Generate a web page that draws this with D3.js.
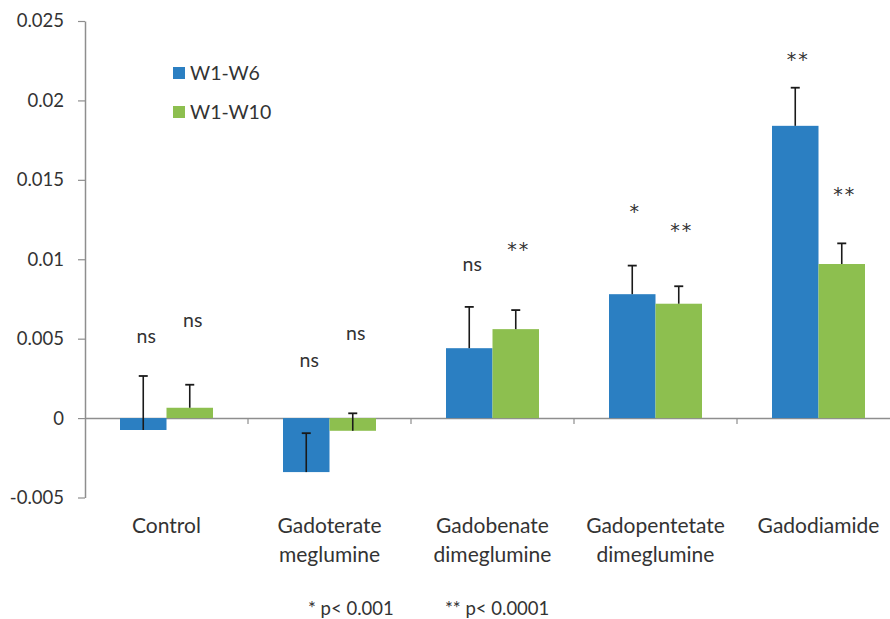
<!DOCTYPE html>
<html>
<head>
<meta charset="utf-8">
<script src="https://cdnjs.cloudflare.com/ajax/libs/d3/7.8.5/d3.min.js"></script>
<style>
  html, body { margin: 0; padding: 0; background: #ffffff; }
  svg { display: block; }
  text { font-family: Lato, "Open Sans", sans-serif; fill: #333333; }
</style>
</head>
<body>
<svg id="chart" width="890" height="619"></svg>
<script>
// Categories (two-line labels) and series
const categories = ["Control", "Gadoterate meglumine", "Gadobenate dimeglumine", "Gadopentetate dimeglumine", "Gadodiamide"];
const categoryLines = [["Control"], ["Gadoterate", "meglumine"], ["Gadobenate", "dimeglumine"], ["Gadopentetate", "dimeglumine"], ["Gadodiamide"]];
const seriesNames = ["W1-W6", "W1-W10"];
const seriesColors = ["#2b7fc2", "#8dbf4f"];

const w6Values  = [-0.00075, -0.0034, 0.0044, 0.0078, 0.0184];
const w6Errors  = [0.0034, 0.00245, 0.0026, 0.0018, 0.0024];
const w10Values = [0.00065, -0.0008, 0.0056, 0.0072, 0.0097];
const w10Errors = [0.00145, 0.0011, 0.0012, 0.0011, 0.0013];

// Significance markers and the level (in data units) where each is written
const w6Sig  = ["ns", "ns", "ns", "*", "**"];
const w6SigLevel  = [0.0051, 0.0036, 0.0096, 0.0132, 0.0228];
const w10Sig = ["ns", "ns", "**", "**", "**"];
const w10SigLevel = [0.0061, 0.0053, 0.0108, 0.0120, 0.0143];

const yTicks = [-0.005, 0, 0.005, 0.01, 0.015, 0.02, 0.025];
const yTickLabels = ["-0.005", "0", "0.005", "0.01", "0.015", "0.02", "0.025"];
const footnotes = ["* p< 0.001", "** p< 0.0001"];

const series = [
  { name: seriesNames[0], values: w6Values, errors: w6Errors, sig: w6Sig, sigLevel: w6SigLevel, color: seriesColors[0] },
  { name: seriesNames[1], values: w10Values, errors: w10Errors, sig: w10Sig, sigLevel: w10SigLevel, color: seriesColors[1] }
];

const svg = d3.select("#chart");
const axisColor = "#8e8e8e";

const x = d3.scaleBand().domain(categories).range([85, 900]).padding(0);
const xInner = d3.scaleBand().domain(seriesNames).range([35, 128]).padding(0);
const y = d3.scaleLinear().domain([-0.005, 0.025]).range([497.5, 21]);

// Y axis
const yAxis = d3.axisLeft(y)
  .tickValues(yTicks)
  .tickFormat((d, i) => yTickLabels[i])
  .tickSizeInner(7).tickSizeOuter(0).tickPadding(14);
const gy = svg.append("g").attr("transform", "translate(85,0)").call(yAxis);
gy.select(".domain").attr("stroke", axisColor).attr("stroke-width", 1.5);
gy.selectAll(".tick line").attr("stroke", axisColor).attr("stroke-width", 1.2);
gy.selectAll(".tick text").style("font-size", "18.5px").style("font-family", "Lato, sans-serif").attr("fill", "#333333");

// X axis along zero
const xAxis = d3.axisBottom(x).tickSize(0).tickFormat("");
const gx = svg.append("g").attr("transform", `translate(0,${y(0)})`).call(xAxis);
gx.select(".domain").attr("stroke", axisColor).attr("stroke-width", 1.5);
gx.selectAll(".tick").remove();
// Category separator ticks
svg.append("g").selectAll("line")
  .data(categories.slice(1))
  .join("line")
  .attr("x1", d => x(d)).attr("x2", d => x(d))
  .attr("y1", y(0)).attr("y2", y(0) + 6)
  .attr("stroke", axisColor).attr("stroke-width", 1.2);

// Bars
const groups = svg.append("g").selectAll("g")
  .data(series)
  .join("g");

groups.selectAll("rect")
  .data(s => s.values.map((v, i) => ({ s, v, i })))
  .join("rect")
  .attr("x", d => x(categories[d.i]) + xInner(d.s.name))
  .attr("width", xInner.bandwidth())
  .attr("y", d => y(Math.max(0, d.v)))
  .attr("height", d => Math.abs(y(d.v) - y(0)))
  .attr("fill", d => d.s.color);

// Error bars (plus direction)
const errG = svg.append("g");
series.forEach(s => {
  s.values.forEach((v, i) => {
    const cx = x(categories[i]) + xInner(s.name) + xInner.bandwidth() / 2;
    const top = y(v + s.errors[i]);
    errG.append("line")
      .attr("x1", cx).attr("x2", cx)
      .attr("y1", y(v)).attr("y2", top)
      .attr("stroke", "#1a1a1a").attr("stroke-width", 1.6);
    errG.append("line")
      .attr("x1", cx - 4.5).attr("x2", cx + 4.5)
      .attr("y1", top).attr("y2", top)
      .attr("stroke", "#1a1a1a").attr("stroke-width", 1.8);
  });
});

// Significance labels
const sigG = svg.append("g");
series.forEach(s => {
  s.sig.forEach((lab, i) => {
    const cx = x(categories[i]) + xInner(s.name) + xInner.bandwidth() / 2 + 3;
    const isStar = lab.indexOf("*") >= 0;
    sigG.append("text")
      .attr("x", cx)
      .attr("y", y(s.sigLevel[i]))
      .attr("dy", isStar ? "0.52em" : "0.3em")
      .attr("text-anchor", "middle")
      .style("font-family", isStar ? "'DejaVu Sans', sans-serif" : "Lato, sans-serif")
      .style("font-size", isStar ? "19px" : "19.5px")
      .style("letter-spacing", isStar ? "2px" : "0px")
      .text(lab);
  });
});

// Category labels
const catG = svg.append("g");
categoryLines.forEach((lines, i) => {
  const cx = x(categories[i]) + x.bandwidth() / 2;
  lines.forEach((ln, j) => {
    catG.append("text")
      .attr("x", cx)
      .attr("y", 533 + j * 29)
      .attr("text-anchor", "middle")
      .style("font-size", "21px")
      .text(ln);
  });
});

// Legend
const legend = svg.append("g");
series.forEach((s, i) => {
  const ly = 73 + i * 39;
  legend.append("rect")
    .attr("x", 173).attr("y", ly - 6).attr("width", 12).attr("height", 12)
    .attr("fill", s.color);
  legend.append("text")
    .attr("x", 190).attr("y", ly).attr("dy", "0.36em")
    .style("font-size", "19.5px")
    .text(s.name);
});

// Footnotes
svg.append("text").attr("x", 308).attr("y", 615).style("font-size", "18.5px").text(footnotes[0]);
svg.append("text").attr("x", 445).attr("y", 615).style("font-size", "18.5px").text(footnotes[1]);
</script>
</body>
</html>
